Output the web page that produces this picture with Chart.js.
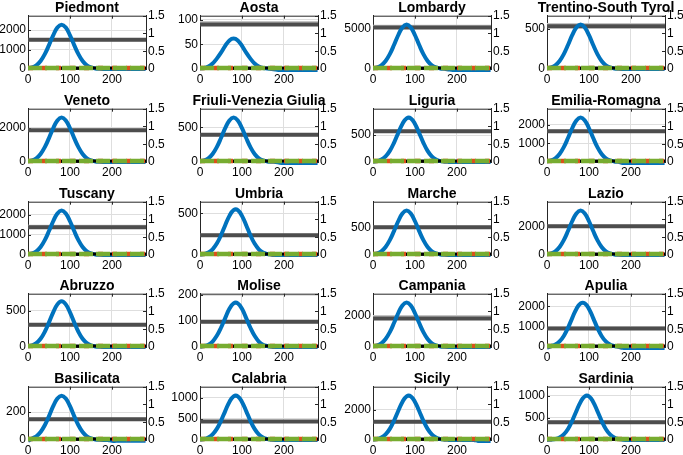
<!DOCTYPE html>
<html>
<head>
<meta charset="utf-8">
<script src="https://cdn.jsdelivr.net/npm/chart.js@4.4.1/dist/chart.umd.min.js"></script>
<style>
  body { margin: 0; background: #fff; width: 683px; height: 455px; position: relative; overflow: hidden; }
  canvas { position: absolute; }
</style>
</head>
<body>
<script>
'use strict';
// days sampled every 10 days
const days = [0,10,20,30,40,50,60,70,80,90,100,110,120,130,140,150,160,170,180,190,200,210,220,230,240,250,260,270,280];

const regions = ['Piedmont','Aosta','Lombardy','Trentino-South Tyrol','Veneto','Friuli-Venezia Giulia','Liguria','Emilia-Romagna',
  'Tuscany','Umbria','Marche','Lazio','Abruzzo','Molise','Campania','Apulia','Basilicata','Calabria','Sicily','Sardinia'];

// blue curves (left axis)
const piedmont  = [28,79,193,410,762,1229,1733,2130,2280,2130,1733,1229,762,410,193,79,28,9,2,0,0,0,0,0,0,0,0,0,0];
const aosta     = [1,2,5,11,21,33,47,58,62,58,47,33,21,11,5,2,1,0,-1,-2,-2,-2,-2,-2,-2,-2,-2,-2,-2];
const lombardy  = [68,189,461,981,1820,2938,4142,5090,5450,5090,4142,2938,1820,981,461,189,68,21,-60,-120,-120,-120,-120,-120,-120,-120,-120,-120,-120];
const trentino  = [7,19,47,100,185,298,420,517,553,517,420,298,185,100,47,19,7,2,1,0,0,0,0,0,0,0,0,0,0];
const veneto    = [32,90,220,468,868,1401,1976,2428,2600,2428,1976,1401,868,468,220,90,32,10,3,0,0,0,0,0,0,0,0,0,0];
const friuli    = [8,22,54,116,215,347,489,601,643,601,489,347,215,116,54,22,8,3,0,-10,-15,-15,-15,-15,-15,-15,-15,-15,-15];
const liguria   = [6,17,46,104,206,357,538,708,812,812,708,538,357,206,104,46,17,6,2,0,0,0,0,0,0,0,0,0,0];
const emilia    = [29,82,201,428,793,1280,1805,2218,2375,2218,1805,1280,793,428,201,82,29,9,-50,-55,-55,-55,-55,-55,-55,-55,-55,-55,-55];
const tuscany   = [27,76,186,396,735,1186,1672,2055,2200,2055,1672,1186,735,396,186,76,27,9,2,0,0,0,0,0,0,0,0,0,0];
const umbria    = [4,12,30,69,137,237,357,470,539,539,470,357,237,137,69,30,12,4,1,0,0,0,0,0,0,0,0,0,0];
const marche    = [10,28,68,144,267,431,608,747,800,747,608,431,267,144,68,28,10,3,1,0,0,0,0,0,0,0,0,0,0];
const lazio     = [38,108,262,558,1035,1671,2356,2895,3100,2895,2356,1671,1035,558,262,108,38,12,3,0,0,0,0,0,0,0,0,0,0];
const abruzzo   = [8,22,54,114,212,342,482,592,634,592,482,342,212,114,54,22,8,2,1,0,0,0,0,0,0,0,0,0,0];
const molise    = [1,4,9,21,43,74,111,147,168,168,147,111,74,43,21,9,4,1,0,0,0,0,0,0,0,0,0,0,0];
const campania  = [35,97,237,504,935,1509,2128,2615,2800,2615,2128,1509,935,504,237,97,35,11,3,0,0,0,0,0,0,0,0,0,0];
const apulia    = [-40,46,121,275,546,945,1427,1877,2153,2153,1877,1427,945,546,275,121,46,15,-40,-50,-50,-50,-50,-50,-50,-50,-50,-50,-50];
const basilicata= [-6,11,27,57,106,171,242,297,318,297,242,171,106,57,27,11,4,1,0,0,-6,-6,-6,-6,-6,-6,-6,-6,-6];
const calabria  = [7,22,58,132,262,453,684,900,1032,1032,900,684,453,262,132,58,22,7,2,0,0,0,0,0,0,0,0,0,0];
const sicily    = [21,62,163,371,736,1274,1922,2528,2900,2900,2528,1922,1274,736,371,163,62,21,6,0,0,0,0,0,0,-60,-60,-60,-60];
const sardinia  = [2,7,21,55,126,249,432,651,857,983,983,857,651,432,249,126,55,21,7,2,0,0,0,0,0,0,0,0,0];

const curves = [piedmont,aosta,lombardy,trentino,veneto,friuli,liguria,emilia,tuscany,umbria,marche,lazio,
  abruzzo,molise,campania,apulia,basilicata,calabria,sicily,sardinia];

// grey level line (left axis) and its upper band edge
const greyLevel = [1500,90,5080,532,1860,394,572,1646,1370,238,500,2000,310,97,1800,913,148,440,1208,400];
const greyUpper = [1500,94,5250,555,1860,394,572,1646,1430,238,500,2000,310,97,1930,913,148,440,1208,400];

// left axis limits and tick step
const leftMax  = [2740,108,6540,663,3120,771,991,2850,2640,640,960,3720,740,205,3360,2630,382,1260,3540,1200];
const leftStep = [1000,50,5000,500,2000,500,500,1000,1000,500,500,2000,500,100,2000,1000,200,500,2000,500];

// right axis ticks and x ticks
const rightTicks = [0, 0.5, 1, 1.5];
const xTicks = [0, 100, 200];

// zero-level series on right axis
const flatLevel = [0.03, 0.03];
const flatDays = [0, 281];

// layout
const colLeft = [28, 200, 372.5, 546.5];
const rowTop = [16, 109, 202, 294, 387];
const plotW = 118, plotH = 53, padL = 30, padR = 30, titleH = 16, axisH = 17;

const font = 'Liberation Sans, Arial, Helvetica, sans-serif';

const boxPlugin = {
  id: 'box',
  beforeDatasetsDraw(chart) {
    const { ctx, chartArea: a, scales } = chart;
    ctx.save();
    ctx.strokeStyle = '#262626';
    ctx.lineWidth = 1;
    ctx.beginPath();
    ctx.moveTo(a.left, a.top + 0.5); ctx.lineTo(a.right, a.top + 0.5);
    scales.x.ticks.forEach(t => {
      const px = Math.round(scales.x.getPixelForValue(t.value)) + 0.5;
      ctx.moveTo(px, a.bottom); ctx.lineTo(px, a.bottom - 3);
      ctx.moveTo(px, a.top); ctx.lineTo(px, a.top + 3);
    });
    scales.y.ticks.forEach(t => {
      const py = Math.round(scales.y.getPixelForValue(t.value)) + 0.5;
      ctx.moveTo(a.left, py); ctx.lineTo(a.left + 3, py);
    });
    scales.y2.ticks.forEach(t => {
      const py = Math.round(scales.y2.getPixelForValue(t.value)) + 0.5;
      ctx.moveTo(a.right, py); ctx.lineTo(a.right - 3, py);
    });
    ctx.stroke();
    ctx.restore();
  }
};

const zeroLine = (color, width, dash) => ({
  data: flatDays.map((d, k) => ({ x: d, y: flatLevel[k] })),
  yAxisID: 'y2', borderColor: color, borderWidth: width, borderDash: dash,
  pointRadius: 0, clip: { left: 0, right: 0, top: 0, bottom: 4 }
});

const setTicks = list => s => { s.ticks = list.map(v => ({ value: v })); };
const plain = v => String(v);

regions.forEach((name, i) => {
  const col = i % 4, row = Math.floor(i / 4);
  const cv = document.createElement('canvas');
  const w = padL + plotW + padR, h = titleH + plotH + axisH;
  cv.width = w; cv.height = h;
  cv.style.left = (colLeft[col] - padL) + 'px';
  cv.style.top = (rowTop[row] - titleH) + 'px';
  document.body.appendChild(cv);

  const leftTicks = [];
  for (let v = 0; v <= leftMax[i]; v += leftStep[i]) leftTicks.push(v);

  const blue = days.map((d, k) => ({ x: d, y: curves[i][k] }));
  new Chart(cv, {
    type: 'line',
    data: {
      datasets: [
        zeroLine('#77AC30', 4.5, [14, 3]),
        zeroLine('#D95319', 4.5, [5, 9]),
        zeroLine('#000000', 3, []),
        { data: blue, yAxisID: 'y', borderColor: '#0072BD', borderWidth: 4, tension: 0.4,
          pointRadius: 0, clip: { left: 0, right: 0, top: 0, bottom: 4 } },
        { data: flatDays.map(d => ({ x: d, y: greyLevel[i] })), yAxisID: 'y',
          borderColor: '#4d4d4d', borderWidth: 4, pointRadius: 0 },
        { data: flatDays.map(d => ({ x: d, y: greyUpper[i] })), yAxisID: 'y',
          borderColor: '#c4c4c4', borderWidth: 3, pointRadius: 0 }
      ]
    },
    options: {
      responsive: false,
      animation: false,
      devicePixelRatio: 1,
      layout: { padding: 0 },
      plugins: {
        legend: { display: false },
        tooltip: { enabled: false },
        title: {
          display: true, text: name, color: '#000',
          font: { family: font, size: 14, weight: 'bold', lineHeight: 1.05 },
          padding: { top: 1, bottom: 0 }
        }
      },
      scales: {
        x: {
          type: 'linear', min: 0, max: 281,
          afterBuildTicks: setTicks(xTicks),
          ticks: { autoSkip: false, maxRotation: 0, callback: plain,
                   color: '#000', font: { family: font, size: 12 }, padding: 3 },
          grid: { color: '#dedede', drawTicks: false },
          border: { color: '#262626' },
          afterFit: s => { s.height = axisH; }
        },
        y: {
          position: 'left', min: 0, max: leftMax[i],
          afterBuildTicks: setTicks(leftTicks),
          ticks: { autoSkip: false, callback: plain,
                   color: '#000', font: { family: font, size: 12 }, padding: 2 },
          grid: { color: '#dedede', drawTicks: false },
          border: { color: '#262626' },
          afterFit: s => { s.width = padL; }
        },
        y2: {
          position: 'right', min: 0, max: 1.5,
          afterBuildTicks: setTicks(rightTicks),
          ticks: { autoSkip: false, callback: plain, color: '#000',
                   font: { family: font, size: 12 }, padding: 2 },
          grid: { drawOnChartArea: false, drawTicks: false },
          border: { color: '#262626' },
          afterFit: s => { s.width = padR; }
        }
      }
    },
    plugins: [boxPlugin]
  });
});
</script>
</body>
</html>
